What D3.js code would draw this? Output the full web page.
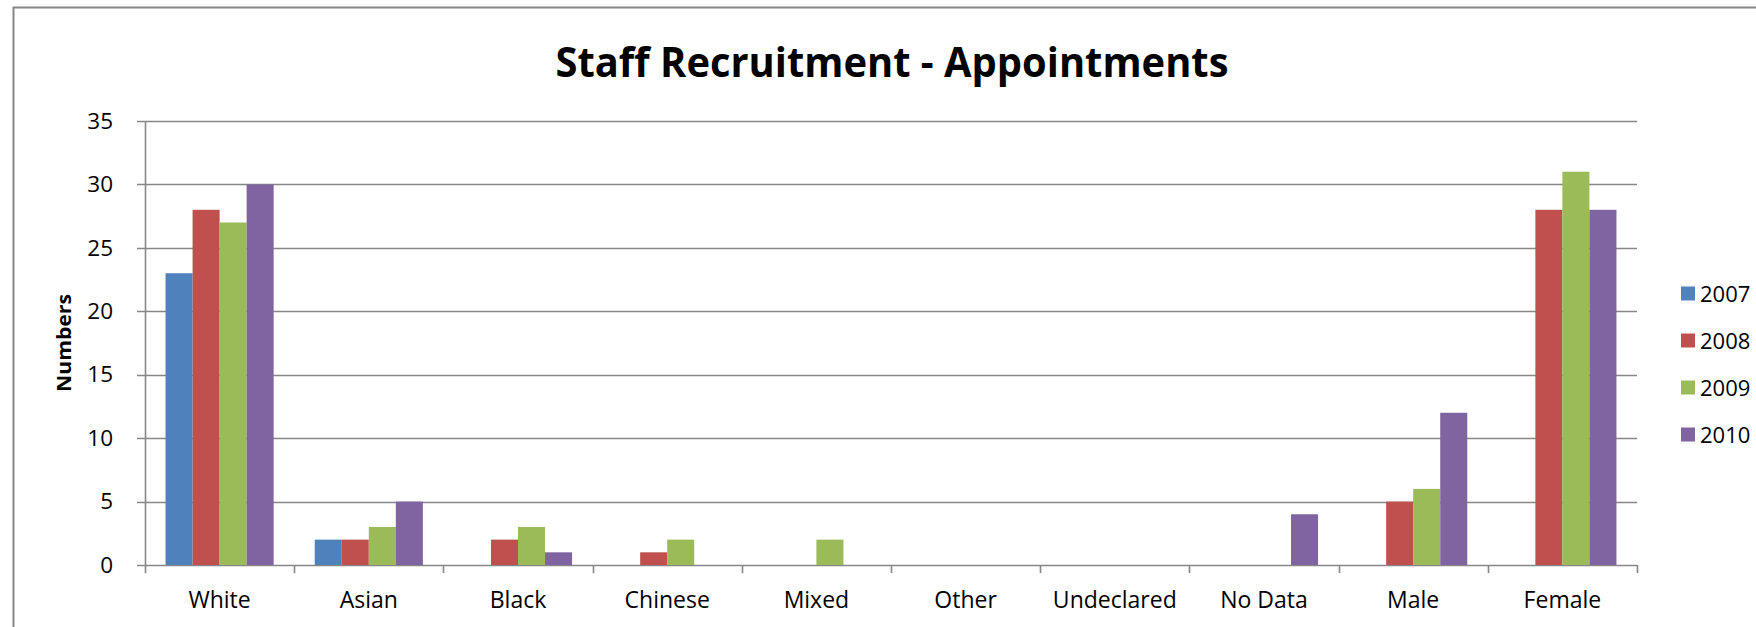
<!DOCTYPE html>
<html>
<head>
<meta charset="utf-8">
<script src="https://cdn.jsdelivr.net/npm/d3@7"></script>
<style>
  body { margin: 0; background: #fff; }
  text { font-family: "Open Sans", "Liberation Sans", sans-serif; fill: #000; }
</style>
</head>
<body>
<div class="chart"></div>
<script>
const categories = ["White", "Asian", "Black", "Chinese", "Mixed", "Other", "Undeclared", "No Data", "Male", "Female"];
const years = ["2007", "2008", "2009", "2010"];
const values2007 = [23, 2, 0, 0, 0, 0, 0, 0, 0, 0];
const values2008 = [28, 2, 2, 1, 0, 0, 0, 0, 5, 28];
const values2009 = [27, 3, 3, 2, 2, 0, 0, 0, 6, 31];
const values2010 = [30, 5, 1, 0, 0, 0, 0, 4, 12, 28];
const yTicks = [0, 5, 10, 15, 20, 25, 30, 35];

drawChart();

function drawChart() {
  const width = 1756,
    height = 627,
    margin = { top: 121, right: 119, bottom: 62, left: 145 },
    gray = "#878787",
    color = d3.scaleOrdinal()
      .domain(years)
      .range(["#4f81bd", "#c0504d", "#9bbb59", "#8064a2"]);

  const series = [values2007, values2008, values2009, values2010];
  const rows = categories.map((c, i) => {
    return { name: c, values: years.map((y, j) => ({ year: y, value: series[j][i] })) };
  });

  const svg = d3.select(".chart")
    .append("svg")
    .attr("width", width)
    .attr("height", height);

  // outer chart border (cut off on the right and bottom in the original)
  svg.append("rect")
    .attr("x", 13.5)
    .attr("y", 7.5)
    .attr("width", width + 20)
    .attr("height", height + 20)
    .attr("fill", "none")
    .attr("stroke", gray)
    .attr("stroke-width", 2);

  const x0 = d3.scaleBand()
    .domain(categories)
    .range([margin.left, width - margin.right])
    .padding(0);

  const x1 = d3.scaleBand()
    .domain(years)
    .range([0, x0.bandwidth()])
    .paddingInner(0)
    .paddingOuter(0.76);

  const y = d3.scaleLinear()
    .domain([0, 35])
    .range([height - margin.bottom, margin.top]);

  // gridlines
  svg.append("g")
    .selectAll("line")
    .data(yTicks)
    .enter()
    .append("line")
    .attr("x1", margin.left - 8)
    .attr("x2", width - margin.right)
    .attr("y1", d => Math.round(y(d)) + 0.5)
    .attr("y2", d => Math.round(y(d)) + 0.5)
    .attr("stroke", gray)
    .attr("stroke-width", 1.6);

  // bars
  svg.append("g")
    .selectAll("g")
    .data(rows)
    .enter()
    .append("g")
    .attr("transform", d => `translate(${x0(d.name)},0)`)
    .selectAll("rect")
    .data(d => d.values.filter(v => v.value > 0))
    .enter()
    .append("rect")
    .attr("x", d => x1(d.year))
    .attr("width", x1.bandwidth())
    .attr("y", d => y(d.value))
    .attr("height", d => y(0) - y(d.value))
    .attr("fill", d => color(d.year));

  // y axis
  const yAxis = svg.append("g")
    .attr("transform", `translate(${margin.left},0)`)
    .call(d3.axisLeft(y).tickValues(yTicks).tickSize(0).tickPadding(32));
  yAxis.select(".domain").remove();
  yAxis.selectAll("text")
    .style("font-size", "22.5px")
    .style("font-family", "\"Open Sans\", sans-serif")
    .attr("fill", "#000");

  svg.append("line")
    .attr("x1", margin.left + 0.5)
    .attr("x2", margin.left + 0.5)
    .attr("y1", y(35))
    .attr("y2", y(0) + 8)
    .attr("stroke", gray)
    .attr("stroke-width", 1.6);

  // x axis tick marks at category boundaries
  const bounds = categories.map(c => x0(c)).concat([x0.range()[1]]);
  svg.append("g")
    .selectAll("line")
    .data(bounds.slice(1))
    .enter()
    .append("line")
    .attr("x1", d => Math.round(d) + 0.5)
    .attr("x2", d => Math.round(d) + 0.5)
    .attr("y1", y(0))
    .attr("y2", y(0) + 8)
    .attr("stroke", gray)
    .attr("stroke-width", 1.6);

  // category labels
  svg.append("g")
    .selectAll("text")
    .data(categories)
    .enter()
    .append("text")
    .attr("x", d => x0(d) + x0.bandwidth() / 2)
    .attr("y", y(0) + 43)
    .attr("text-anchor", "middle")
    .style("font-size", "23px")
    .text(d => d);

  // title
  svg.append("text")
    .attr("x", 892)
    .attr("y", 77)
    .attr("text-anchor", "middle")
    .attr("textLength", 673)
    .attr("lengthAdjust", "spacingAndGlyphs")
    .style("font-size", "42px")
    .style("font-weight", "bold")
    .text("Staff Recruitment - Appointments");

  // y axis title
  svg.append("text")
    .attr("transform", `translate(71, ${(y(0) + y(35)) / 2}) rotate(-90)`)
    .attr("text-anchor", "middle")
    .attr("textLength", 98)
    .attr("lengthAdjust", "spacingAndGlyphs")
    .style("font-size", "20px")
    .style("font-weight", "bold")
    .text("Numbers");

  // legend
  const legend = svg.selectAll(".legend")
    .data(color.domain())
    .enter()
    .append("g")
    .attr("class", "legend")
    .attr("transform", (d, i) => `translate(1681, ${293.5 + i * 47})`);

  legend.append("rect")
    .attr("x", 0)
    .attr("y", -7)
    .attr("width", 14)
    .attr("height", 14)
    .attr("fill", color);

  legend.append("text")
    .attr("x", 19)
    .attr("y", 8)
    .style("font-size", "22px")
    .text(d => d);
}
</script>
</body>
</html>
